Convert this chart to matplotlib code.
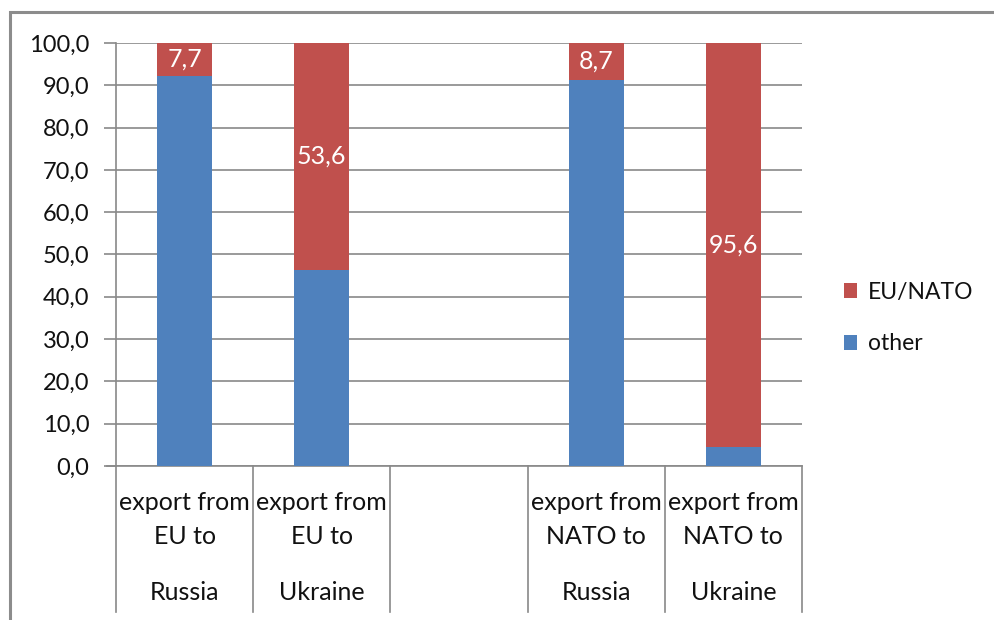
import numpy as np
import matplotlib.pyplot as plt
import matplotlib.transforms as mtrans
from matplotlib.patches import Rectangle

# data
line1 = ["export from", "export from", "", "export from", "export from"]
line2 = ["EU to", "EU to", "", "NATO to", "NATO to"]
line3 = ["Russia", "Ukraine", "", "Russia", "Ukraine"]
eu_nato = [7.7, 53.6, np.nan, 8.7, 95.6]
other = [92.3, 46.4, np.nan, 91.3, 4.4]
series_names = ["EU/NATO", "other"]

blue = '#4F81BD'
red = '#C0504D'
grid_c = '#898989'
txt_c = '#111111'

plt.rcParams['font.family'] = ['Lato', 'DejaVu Sans']

W, H = 995, 620
fig = plt.figure(figsize=(W / 100, H / 100), dpi=100)
# chart frame (top and left edges visible)
fig.add_artist(Rectangle((9.5 / W, -0.1), 1.2, (620 - 11.5) / H + 0.1,
                         transform=fig.transFigure, fill=False,
                         edgecolor='#8c8c8c', linewidth=2.2))

x0, x1, y0, y1 = 116, 802, 466, 43
ax = fig.add_axes([x0 / W, (H - y0) / H, (x1 - x0) / W, (y0 - y1) / H])

x = np.arange(len(eu_nato))
ax.bar(x, other, width=0.4, color=blue, label=series_names[1], zorder=3)
ax.bar(x, eu_nato, width=0.4, bottom=other, color=red, label=series_names[0], zorder=3)

for xi, b, v in zip(x, other, eu_nato):
    if np.isnan(v):
        continue
    ax.text(xi, b + v / 2, f"{v:.1f}".replace('.', ','), ha='center', va='center',
            color='white', fontsize=18, zorder=4)

ax.set_xlim(-0.5, len(x) - 0.5)
ax.set_ylim(0, 100)
ax.set_yticks(np.arange(0, 101, 10))
ax.set_yticklabels([f"{t:.1f}".replace('.', ',') for t in np.arange(0, 101, 10)])
ax.tick_params(axis='y', length=9, width=1.2, color=grid_c, pad=10,
               labelsize=17, labelcolor=txt_c)
ax.tick_params(axis='x', bottom=False, labelbottom=False)
ax.grid(axis='y', color=grid_c, linewidth=1.2, zorder=0)
for s in ['top', 'right']:
    ax.spines[s].set_visible(False)
ax.spines['left'].set_color(grid_c)
ax.spines['left'].set_linewidth(1.2)
ax.spines['bottom'].set_color(grid_c)
ax.spines['bottom'].set_linewidth(1.2)

# category label area
tr = mtrans.blended_transform_factory(ax.transData, ax.transAxes)
px = 1.0 / (y0 - y1)
for b in np.arange(-0.5, len(x), 1.0):
    ax.plot([b, b], [0, -(612 - y0) * px], transform=tr, color=grid_c,
            linewidth=1.2, clip_on=False)
ax.plot([-0.5, -0.5 - 9 / ((x1 - x0) / len(x))], [0, 0], transform=tr,
        color=grid_c, linewidth=1.2, clip_on=False)
for xi, a, b, c in zip(x, line1, line2, line3):
    ax.text(xi, -(503 - y0) * px, a, transform=tr, ha='center', va='center',
            fontsize=18, color=txt_c)
    ax.text(xi, -(537 - y0) * px, b, transform=tr, ha='center', va='center',
            fontsize=18, color=txt_c)
    ax.text(xi, -(592 - y0) * px, c, transform=tr, ha='center', va='center',
            fontsize=18, color=txt_c)

handles, labels = ax.get_legend_handles_labels()
leg = fig.legend(handles[::-1], labels[::-1], loc='center left',
                 bbox_to_anchor=(823 / W, (H - 318) / H), frameon=False,
                 fontsize=16.5, handlelength=0.6, handleheight=0.6,
                 handletextpad=0.45, labelspacing=1.35)
for t in leg.get_texts():
    t.set_color(txt_c)

fig.savefig('out.png', dpi=100)
